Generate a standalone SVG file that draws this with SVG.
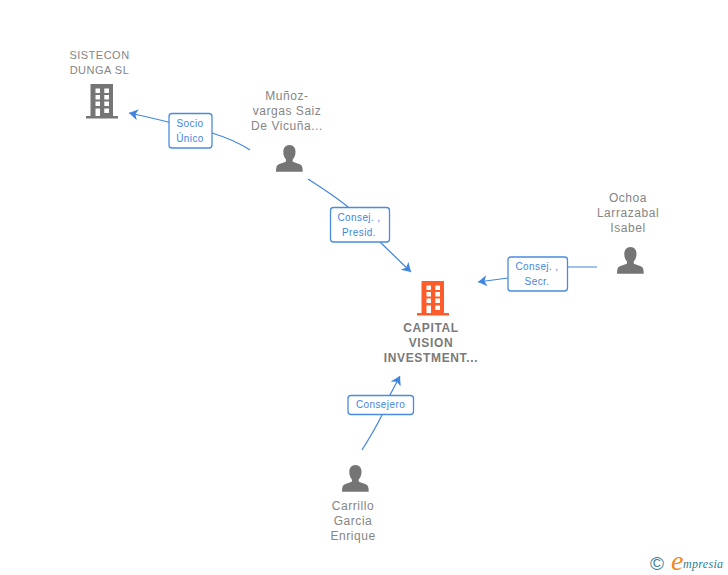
<svg xmlns="http://www.w3.org/2000/svg" width="728" height="575" viewBox="0 0 728 575">
<style>
text{font-family:"Liberation Sans",Arial,sans-serif}
.n{font-size:12px;fill:#858585;text-anchor:middle;letter-spacing:.55px}
.s{font-size:11px;letter-spacing:.5px}
.nb{font-weight:bold;letter-spacing:.65px;fill:#7a7a7a}
.e{fill:none;stroke:#3f84e0;stroke-width:1.2}
.lb{fill:#fff;stroke:#4a8ae0;stroke-width:1.3}
.lt{font-size:10px;fill:#3f84e0;text-anchor:middle;letter-spacing:.4px}
</style>
<defs>
<marker id="a" markerUnits="userSpaceOnUse" markerWidth="12" markerHeight="12" refX="9" refY="5.500" orient="auto"><path d="M0 0L9 5.500L0 11L2.500 5.500Z" fill="#3f84e0"/></marker>
<g id="bld"><path d="M4.500 0H27V32H32V34.500H0V32H4.500ZM9.500 4.500V9H14V4.500ZM18.300 4.500V9H23V4.500ZM9.500 11V15.500H14V11ZM18.300 11V15.500H23V11ZM9.500 17.500V22H14V17.500ZM18.300 17.500V22H23V17.500ZM9.500 24.500V32H14V24.500ZM18.300 24.500V29H23V24.500Z" fill-rule="evenodd"/></g>
<path id="psn" d="M13.500 0C9.500 0 7.300 3.200 7.300 7C7.300 10 8.300 12.600 10 14.400V16.500C8 18 1.500 18.700 0.600 21.600C0.200 23 0 25 0 26.700H26.700C26.700 25 26.500 23 26.100 21.600C25.200 18.700 18.700 18 16.700 16.500V14.400C18.400 12.600 19.500 10 19.500 7C19.500 3.200 17.500 0 13.500 0Z" fill="#757575"/>
</defs>
<g id="connectors">
<path class="e" marker-end="url(#a)" d="M250 150C238 142 225 137 212 133L168 122C156 119 144 116 129 113"/>
<path class="e" marker-end="url(#a)" d="M308 179C322 188 336 197 348 207L380 242L411 272"/>
<path class="e" marker-end="url(#a)" d="M597 267C587 267 577 267 567 267L508 278L478 282"/>
<path class="e" marker-end="url(#a)" d="M362 450C369 439 376 427 382 415L390 395L400 376"/>
</g>
<g id="node-sistecon"><text class="n s" x="99.500" y="59">SISTECON</text><text class="n s" x="99.500" y="74">DUNGA SL</text><use href="#bld" x="86" y="84" fill="#757575"/></g>
<g id="node-munoz"><text class="n" x="287" y="100">Muñoz-</text><text class="n" x="287" y="115">vargas Saiz</text><text class="n" x="287" y="130">De Vicuña...</text><use href="#psn" x="276" y="145"/></g>
<g id="node-ochoa"><text class="n" x="628" y="202">Ochoa</text><text class="n" x="628" y="217">Larrazabal</text><text class="n" x="628" y="232">Isabel</text><use href="#psn" x="617" y="247"/></g>
<g id="node-capital"><use href="#bld" x="417" y="281" fill="#ff5c2b"/><text class="n nb" x="431" y="332">CAPITAL</text><text class="n nb" x="431" y="347">VISION</text><text class="n nb" x="431" y="362">INVESTMENT...</text></g>
<g id="node-carrillo"><use href="#psn" x="342" y="465"/><text class="n" x="353" y="510">Carrillo</text><text class="n" x="353" y="525">Garcia</text><text class="n" x="353" y="540">Enrique</text></g>
<g id="label-socio"><rect class="lb" x="169" y="113.500" width="43" height="34.500" rx="3"/><text class="lt" x="190" y="127">Socio</text><text class="lt" x="190" y="142">Único</text></g>
<g id="label-presid"><rect class="lb" x="330.500" y="207.500" width="59" height="34.500" rx="3"/><text class="lt" x="359" y="221">Consej. ,</text><text class="lt" x="359" y="236">Presid.</text></g>
<g id="label-secr"><rect class="lb" x="508" y="257" width="59.500" height="34" rx="3"/><text class="lt" x="537" y="270">Consej. ,</text><text class="lt" x="537" y="285">Secr.</text></g>
<g id="label-consejero"><rect class="lb" x="348" y="395.500" width="65.500" height="19" rx="3"/><text class="lt" x="380.500" y="408">Consejero</text></g>
<g id="logo"><text x="650" y="570" font-size="19" fill="#3d7f96">©</text><text x="671" y="570" font-size="28" font-style="italic" fill="#f08a1d" style="font-family:'Liberation Serif',serif">e</text><text x="683" y="568" font-size="12" font-style="italic" letter-spacing=".3" fill="#2b7f96" style="font-family:'Liberation Serif',serif">mpresia</text></g>
</svg>
